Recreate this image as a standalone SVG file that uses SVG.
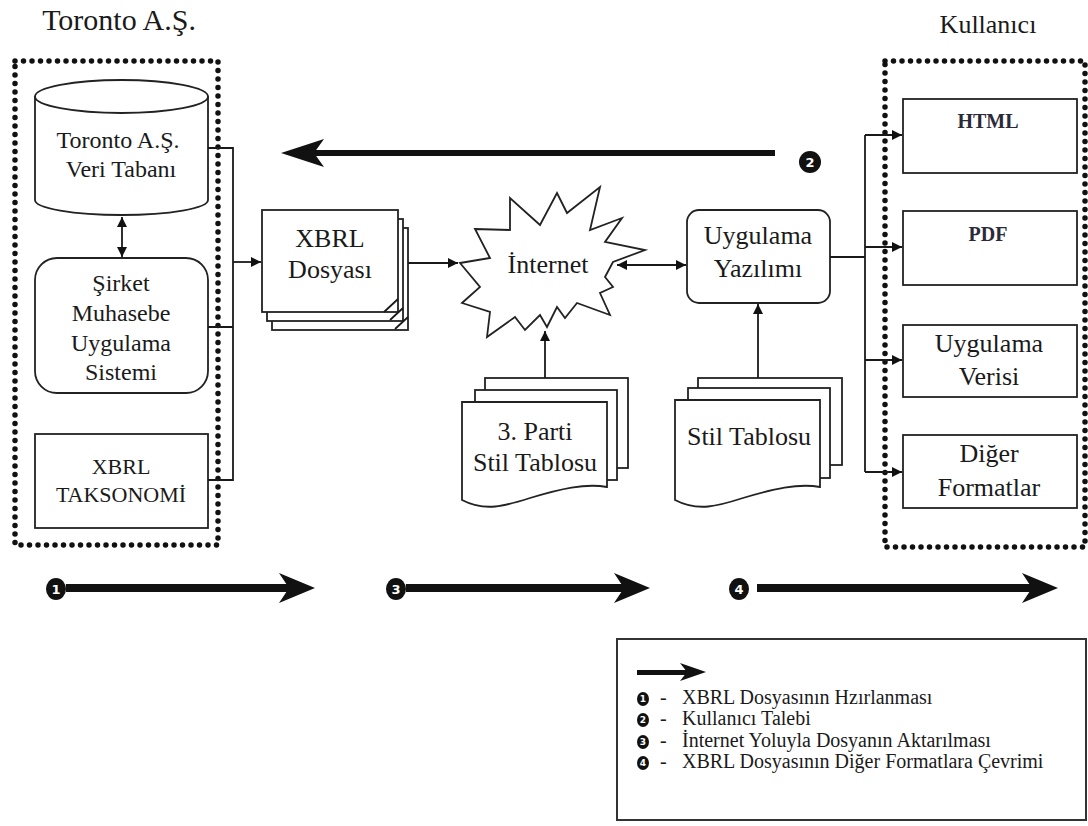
<svg xmlns="http://www.w3.org/2000/svg" width="1088" height="826" viewBox="0 0 1088 826">
<defs>
<style>
text{font-family:"Liberation Serif","Times New Roman",serif;fill:#1a1a1a;text-anchor:middle}
.box{fill:#fff;stroke:#222;stroke-width:1.8}
.ln{fill:none;stroke:#1a1a1a;stroke-width:1.8}
.dot{fill:none;stroke:#111;stroke-width:5.5;stroke-linecap:round;stroke-dasharray:0 8.5}
.t24{font-size:24px}
.t26{font-size:26px}
.t22{font-size:22px}
.b20{font-size:20px;font-weight:bold;fill:#2a2a38}
.lg{font-size:20px;text-anchor:start}
.num{font-family:"DejaVu Sans",sans-serif;font-weight:bold;fill:#fff;font-size:13px}
.numS{font-family:"DejaVu Sans",sans-serif;font-weight:bold;fill:#fff;font-size:9px}
.thick{fill:#111}
</style>
<marker id="ah" viewBox="0 0 10 10" refX="10" refY="5" markerWidth="11" markerHeight="10" markerUnits="userSpaceOnUse" orient="auto-start-reverse">
<path d="M0,0 L10,5 L0,10 Z" fill="#111"/>
</marker>
</defs>
<rect width="1088" height="826" fill="#fff"/>

<text x="119" y="30" style="font-size:30px">Toronto A.Ş.</text>
<text x="988" y="33" style="font-size:26px">Kullanıcı</text>

<!-- left dotted container -->
<rect class="dot" x="15" y="61" width="203" height="484"/>
<!-- right dotted container -->
<rect class="dot" x="885" y="61" width="200" height="486"/>

<g id="db">
<path class="box" d="M35,96 V200 A86.5,15 0 0 0 208,200 V96"/>
<ellipse class="box" cx="121.5" cy="96.5" rx="86.5" ry="16.5"/>
<text class="t24" x="118" y="148">Toronto A.Ş.</text>
<text class="t24" x="121" y="177">Veri Tabanı</text>
</g>

<g id="sirket">
<rect class="box" x="35" y="258" width="173" height="135" rx="22"/>
<text class="t24" x="121" y="291">Şirket</text>
<text class="t24" x="121" y="321">Muhasebe</text>
<text class="t24" x="121" y="351">Uygulama</text>
<text class="t24" x="121" y="380">Sistemi</text>
</g>

<g id="taksonomi">
<rect class="box" x="35" y="434" width="173" height="94"/>
<text class="t22" x="121" y="474">XBRL</text>
<text class="t22" x="121" y="502">TAKSONOMİ</text>
</g>

<g id="xbrl-dosyasi">
<rect class="box" x="272" y="228" width="136" height="102"/>
<rect class="box" x="267" y="219" width="136" height="102"/>
<rect class="box" x="262" y="210" width="136" height="102"/>
<path class="ln" d="M384,312 L398,299 M390,320 L403,308 M395,329 L408,317" stroke-width="1.2"/>
<text class="t26" x="330" y="247">XBRL</text>
<text class="t26" x="330" y="278">Dosyası</text>
</g>

<g id="internet">
<polygon class="box" points="475,229 510,230 510,198 540,225 557,193 567,213 600,187 590,230 622,218 605,242 645,250 613,262 605,277 613,287 600,293 610,315 577,303 565,318 557,307 547,327 540,315 525,330 515,317 487,337 490,312 462,303 480,287 460,263 490,258"/>
<text class="t26" x="548" y="273">İnternet</text>
</g>

<g id="uygulama-yazilimi">
<rect class="box" x="687" y="210" width="143" height="93" rx="12"/>
<text class="t26" x="758" y="244">Uygulama</text>
<text class="t26" x="758" y="277">Yazılımı</text>
</g>

<g id="stil-3parti">
<rect class="box" x="485" y="378" width="143" height="90"/>
<rect class="box" x="475" y="390" width="142" height="90"/>
<path class="box" d="M462,402 H607 V487 C585,483 560,489 530,498 C505,506 485,512 462,500 Z"/>
<text class="t26" x="535" y="440">3. Parti</text>
<text class="t26" x="535" y="471">Stil Tablosu</text>
</g>

<g id="stil-tablosu">
<rect class="box" x="698" y="378" width="144" height="87"/>
<rect class="box" x="688" y="388" width="142" height="90"/>
<path class="box" d="M675,400 H820 V487 C798,483 773,489 743,498 C718,506 698,512 675,500 Z"/>
<text class="t26" x="749" y="445">Stil Tablosu</text>
</g>

<g id="html">
<rect class="box" x="903" y="99" width="174" height="74"/>
<text class="b20" x="988" y="128">HTML</text>
</g>
<g id="pdf">
<rect class="box" x="903" y="211" width="174" height="74"/>
<text class="b20" x="988" y="241">PDF</text>
</g>
<g id="uygulama-verisi">
<rect class="box" x="903" y="325" width="174" height="72"/>
<text class="t26" x="989" y="352">Uygulama</text>
<text class="t26" x="989" y="385">Verisi</text>
</g>
<g id="diger-formatlar">
<rect class="box" x="903" y="435" width="174" height="73"/>
<text class="t26" x="989" y="462">Diğer</text>
<text class="t26" x="989" y="496">Formatlar</text>
</g>

<g id="connectors">
<line class="ln" x1="122" y1="217" x2="122" y2="257" marker-start="url(#ah)" marker-end="url(#ah)"/>
<path class="ln" d="M208,148 H233 V480 H208 M208,327 H233"/>
<line class="ln" x1="233" y1="262" x2="261" y2="262" marker-end="url(#ah)"/>
<line class="ln" x1="408" y1="263" x2="458" y2="263" marker-end="url(#ah)"/>
<line class="ln" x1="617" y1="265" x2="686" y2="265" marker-start="url(#ah)" marker-end="url(#ah)"/>
<line class="ln" x1="545" y1="378" x2="545" y2="331" marker-end="url(#ah)"/>
<line class="ln" x1="758" y1="378" x2="758" y2="304" marker-end="url(#ah)"/>
<line class="ln" x1="830" y1="257" x2="865" y2="257" stroke-width="3"/>
<path class="ln" d="M865,135 V472"/>
<line class="ln" x1="865" y1="135" x2="902" y2="135" marker-end="url(#ah)"/>
<line class="ln" x1="865" y1="247" x2="902" y2="247" marker-end="url(#ah)"/>
<line class="ln" x1="865" y1="360" x2="902" y2="360" marker-end="url(#ah)"/>
<line class="ln" x1="865" y1="472" x2="902" y2="472" marker-end="url(#ah)"/>
</g>

<g id="flow-arrows">
<!-- arrow 2 -->
<rect class="thick" x="312" y="150" width="463" height="6"/>
<polygon class="thick" points="281,153 324,139 314,153 324,167"/>
<circle cx="810" cy="162" r="11" fill="#111"/>
<text class="num" x="810" y="167">2</text>
<!-- arrow 1 -->
<ellipse cx="56" cy="589" rx="10" ry="11" fill="#111"/>
<text class="num" x="56" y="594">1</text>
<rect class="thick" x="66" y="584" width="224" height="8"/>
<polygon class="thick" points="315,588 279,573 289,588 279,603"/>
<!-- arrow 3 -->
<ellipse cx="396" cy="589" rx="10" ry="11" fill="#111"/>
<text class="num" x="396" y="594">3</text>
<rect class="thick" x="406" y="584" width="220" height="8"/>
<polygon class="thick" points="650,588 614,573 624,588 614,603"/>
<!-- arrow 4 -->
<ellipse cx="739" cy="589" rx="10" ry="11" fill="#111"/>
<text class="num" x="739" y="594">4</text>
<rect class="thick" x="757" y="584" width="275" height="8"/>
<polygon class="thick" points="1058,588 1022,573 1032,588 1022,603"/>
</g>

<g id="legend">
<rect x="617" y="639" width="469" height="181" fill="#fff" stroke="#333" stroke-width="2"/>
<rect class="thick" x="637" y="670" width="50" height="5"/>
<polygon class="thick" points="706,672 680,663 687,672 680,681"/>
<ellipse cx="643" cy="699" rx="6" ry="7" fill="#111"/>
<text class="numS" x="643" y="702">1</text>
<ellipse cx="643" cy="720" rx="6" ry="7" fill="#111"/>
<text class="numS" x="643" y="723">2</text>
<ellipse cx="643" cy="742" rx="6" ry="7" fill="#111"/>
<text class="numS" x="643" y="745">3</text>
<ellipse cx="643" cy="763" rx="6" ry="7" fill="#111"/>
<text class="numS" x="643" y="766">4</text>
<text class="lg" x="660" y="704">-</text>
<text class="lg" x="660" y="725">-</text>
<text class="lg" x="660" y="747">-</text>
<text class="lg" x="660" y="768">-</text>
<text class="lg" x="682" y="704">XBRL Dosyasının Hzırlanması</text>
<text class="lg" x="682" y="725">Kullanıcı Talebi</text>
<text class="lg" x="682" y="747">İnternet Yoluyla Dosyanın Aktarılması</text>
<text class="lg" x="682" y="768">XBRL Dosyasının Diğer Formatlara Çevrimi</text>
</g>
</svg>
